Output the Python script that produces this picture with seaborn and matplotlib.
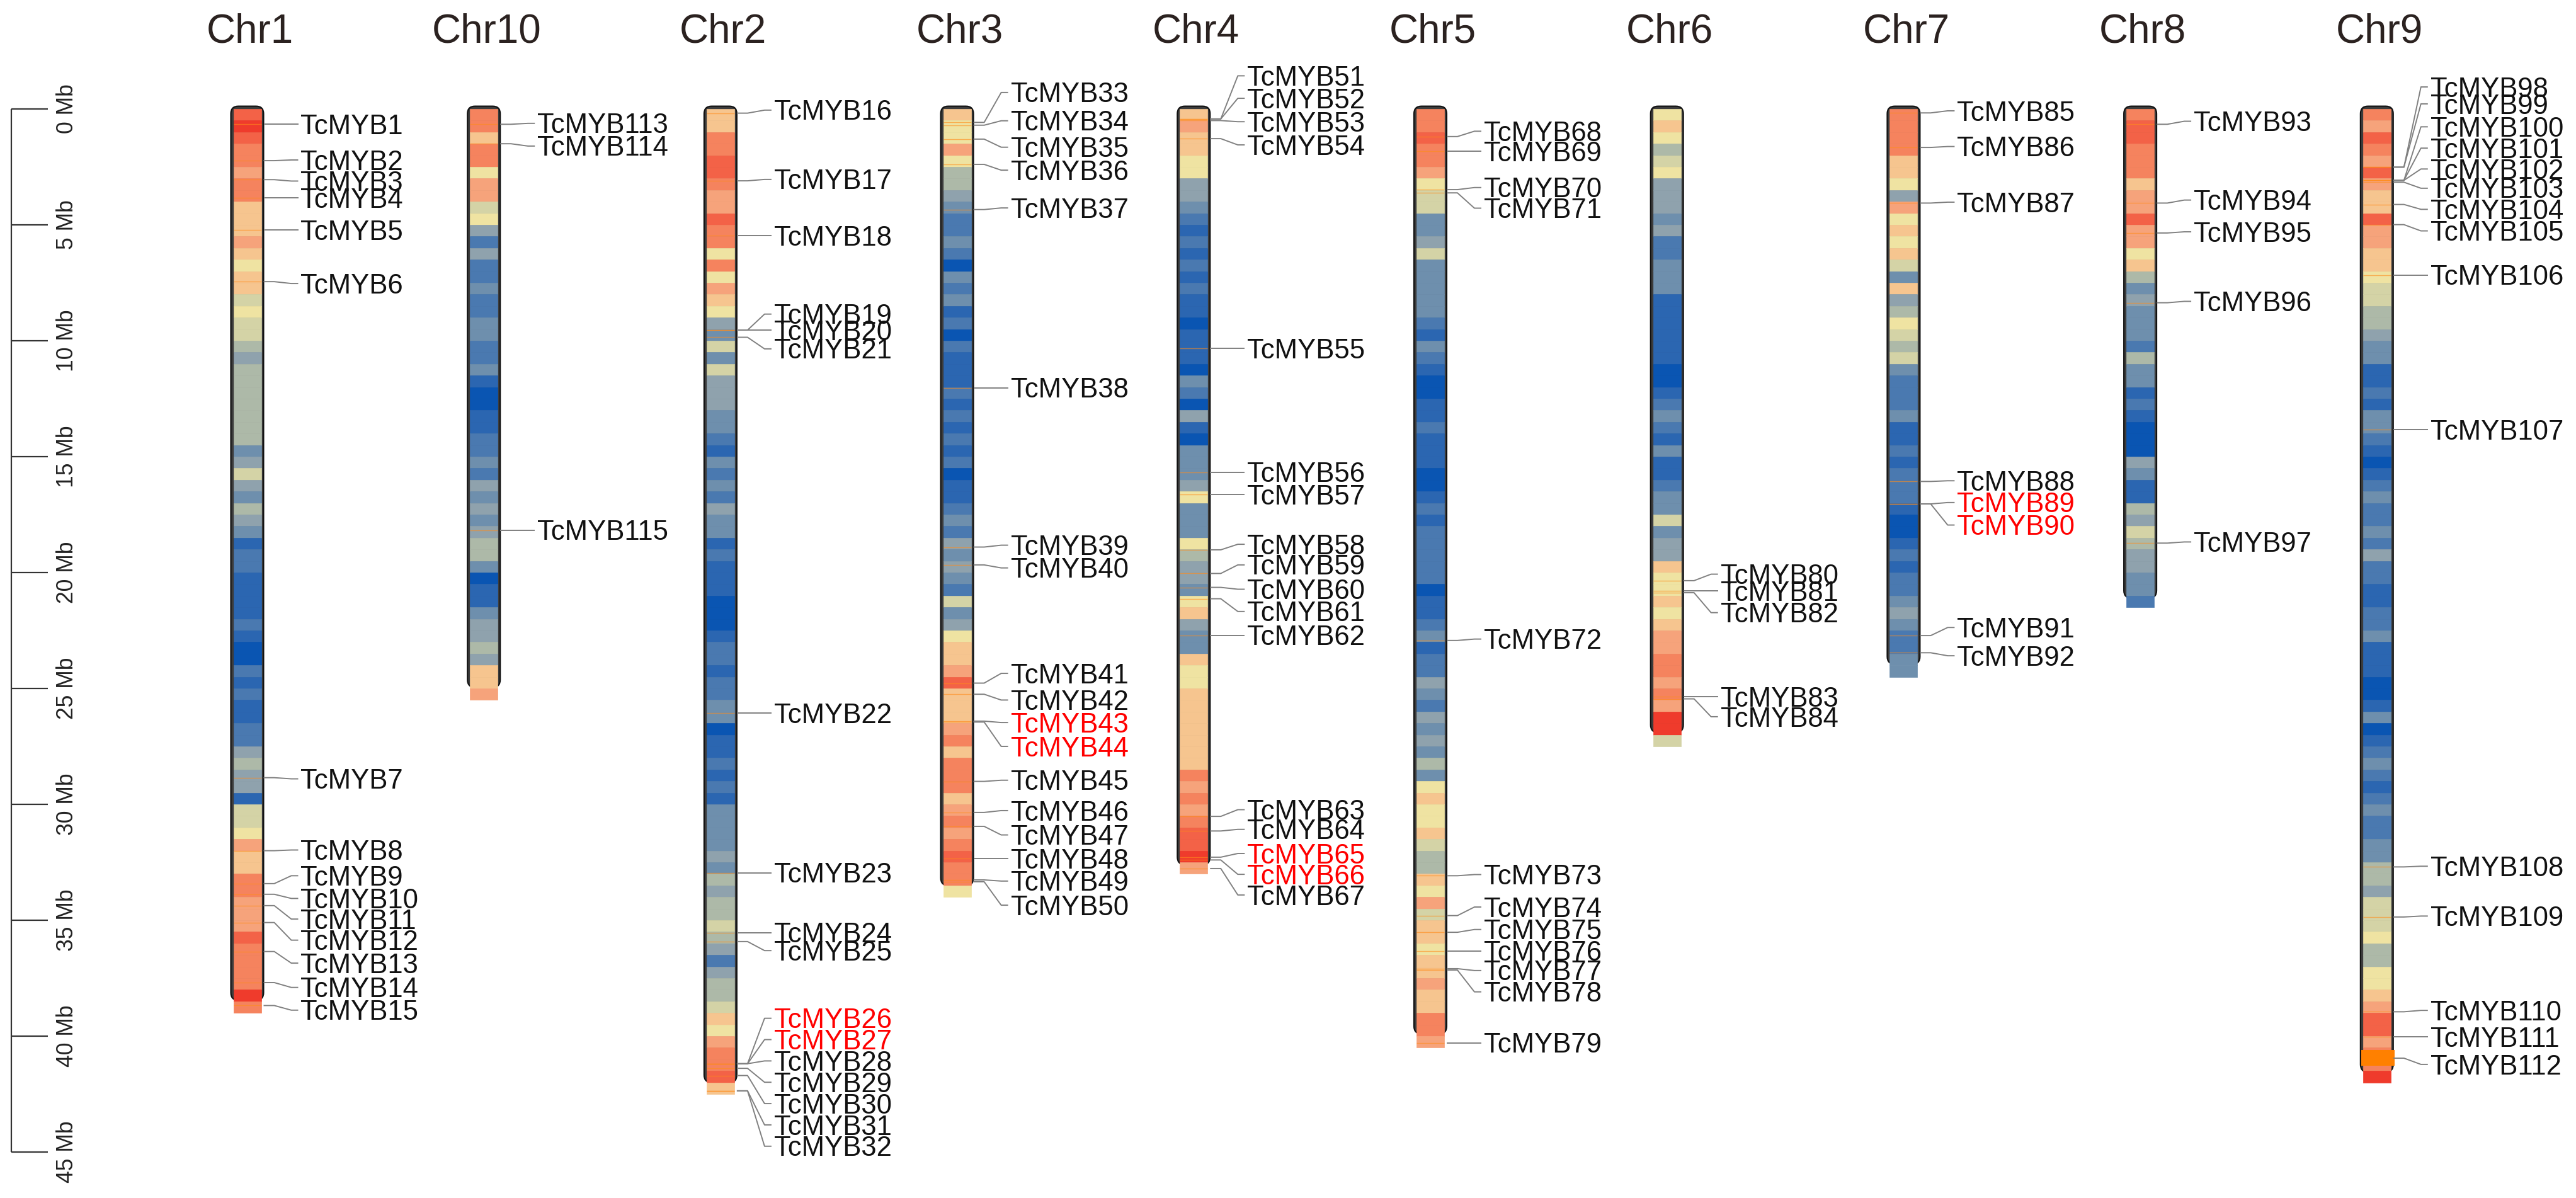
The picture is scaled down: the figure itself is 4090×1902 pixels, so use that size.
import numpy as np
import matplotlib
matplotlib.use("Agg")
import matplotlib.pyplot as plt
import seaborn as sns
from matplotlib.patches import FancyBboxPatch, Rectangle

sns.set_theme(style="white")
plt.rcParams['font.family'] = ['Liberation Sans', 'DejaVu Sans']

# ---------------- data ----------------
chroms = ["Chr1", "Chr10", "Chr2", "Chr3", "Chr4", "Chr5", "Chr6", "Chr7", "Chr8", "Chr9"]
chrom_len = [38.45, 24.95, 42.0, 33.5, 32.6, 39.9, 26.9, 23.95, 21.1, 41.55]
bin_size = 0.5
scale_ticks = [0, 5, 10, 15, 20, 25, 30, 35, 40, 45]
scale_labels = ["0 Mb", "5 Mb", "10 Mb", "15 Mb", "20 Mb", "25 Mb", "30 Mb", "35 Mb", "40 Mb", "45 Mb"]

# gene density level per 0.5 Mb bin (0 = lowest, 12 = highest)
dens_chr1 = [11,12,11,10,10,9,10,10,8,8, 8,9,8,7,8,8,6,7,6,6, 5,4,5,5,5,5,5,5,5,3,
             4,6,4,3,5,4,3,1,2,2, 1,1,1,1,2,1,0,0,2,1, 2,1,1,2,2,4,5,4,4,1,
             6,6,7,9,8,8,10,10,9,9, 9,11,10,10,10,10,12,10]
dens_chr10 = [10,10,8,10,10,7,9,9,6,7, 4,2,4,2,2,3,2,2,3,3, 2,2,3,1,0,0,1,1,2,2,
              3,2,4,3,4,3,4,5,5,3, 0,1,1,3,4,4,5,4,8,8, 9]
dens_chr2 = [8,8,10,10,11,11,10,9,9,11, 10,10,7,10,7,9,8,7,4,3, 6,3,6,4,4,4,3,3,2,1,
             3,2,3,2,4,3,3,1,2,1, 1,1,0,0,0,1,2,2,1,2, 2,3,3,0,1,1,2,1,2,1,
             3,3,3,3,4,3,5,4,5,5, 6,5,4,2,4,5,5,6,8,7, 9,10,10,11,8]
dens_chr3 = [8,7,7,9,7,5,5,4,3,2, 2,3,2,0,3,2,3,1,2,0, 2,1,1,1,2,1,2,1,2,1,
             2,0,1,1,2,3,2,4,3,4, 3,2,6,3,4,7,8,8,9,11, 8,8,8,9,10,8,10,10,10,8,
             9,10,9,10,11,10,10,7]
dens_chr4 = [8,9,8,8,7,7,4,4,3,2, 1,2,1,2,1,2,1,1,0,1, 1,1,0,3,2,0,4,1,0,3,
             3,3,4,7,3,3,3,7,5,4, 4,3,7,8,4,3,3,8,7,7, 8,8,8,8,8,8,8,10,9,10,
             9,10,11,11,12,9]
dens_chr5 = [10,10,11,10,10,9,7,6,6,3, 3,4,6,3,3,3,3,3,2,1, 3,2,1,0,0,1,1,2,1,1,
             1,0,0,1,2,1,2,2,2,2, 2,0,1,1,2,3,1,2,2,4, 3,2,4,3,4,3,5,3,7,8,
             7,7,8,6,5,5,8,7,9,6, 8,8,7,8,8,9,8,8,10,10, 9]
dens_chr6 = [7,8,7,5,6,7,4,4,4,3, 4,2,2,3,3,3,1,1,1,1, 1,1,0,0,1,2,3,2,1,3,
             1,1,2,3,3,6,3,4,4,8, 7,7,8,7,8,9,9,10,10,9, 10,9,12,12,6]
dens_chr7 = [10,10,10,10,8,8,7,4,9,7, 8,7,8,6,3,8,4,5,7,6, 5,6,3,2,2,2,3,1,1,2,
             1,2,2,2,1,0,0,1,2,1, 2,2,3,4,3,2,2,3,3]
dens_chr8 = [10,11,11,10,10,10,8,9,9,11, 9,9,7,8,5,3,4,3,3,3, 2,5,3,3,1,2,1,0,0,0,
             4,3,1,1,5,4,6,5,4,4, 3,3,2]
dens_chr9 = [10,9,11,10,9,11,9,8,8,11, 9,9,8,8,7,6,6,5,5,4, 3,3,1,1,2,1,3,3,2,1,
             0,1,2,3,2,2,3,2,4,2, 2,1,1,2,2,3,1,1,1,0, 0,1,3,0,1,2,3,2,1,2,
             3,2,2,3,3,5,5,4,6,6, 6,7,5,5,7,7,8,9,11,11, 9,10,10,12]

# genes: id number, position on chromosome (Mb), label position (Mb)
ids_chr1 = [1,2,3,4,5,6,7,8,9,10,11,12,13,14,15]
pos_chr1 = [0.66,2.23,3.05,3.84,5.23,7.45,28.85,32.0,33.42,33.88,34.37,35.1,36.35,37.69,38.68]
lab_chr1 = [0.66,2.2,3.11,3.84,5.23,7.53,28.9,31.97,33.08,34.06,34.95,35.86,36.85,37.9,38.88]

ids_chr10 = [113,114,115]
pos_chr10 = [0.66,1.5,18.17]
lab_chr10 = [0.62,1.6,18.17]

ids_chr2 = [16,17,18,19,20,21,22,23,24,25,26,27,28,29,30,31,32]
pos_chr2 = [0.18,3.1,5.47,9.54,9.54,9.85,26.07,32.95,35.54,35.92,41.19,41.19,41.19,41.39,41.7,42.36,42.36]
lab_chr2 = [0.05,3.04,5.47,8.85,9.54,10.35,26.07,32.95,35.54,36.31,39.23,40.15,41.07,41.99,42.91,43.83,44.75]

ids_chr3 = [33,34,35,36,37,38,39,40,41,42,43,44,45,46,47,48,49,50]
pos_chr3 = [0.58,0.70,1.3,2.39,4.34,12.03,18.9,19.67,24.77,25.25,26.41,26.45,29.01,30.35,30.95,32.34,33.26,33.34]
lab_chr3 = [-0.71,0.51,1.65,2.64,4.27,12.03,18.82,19.8,24.35,25.5,26.47,27.5,28.96,30.27,31.32,32.34,33.31,34.35]

ids_chr4 = [51,52,53,54,55,56,57,58,59,60,61,62,63,64,65,66,67]
pos_chr4 = [0.43,0.43,0.5,1.28,10.33,15.67,16.64,19.02,20.04,20.64,21.13,22.71,30.52,31.15,32.28,32.4,32.77]
lab_chr4 = [-1.43,-0.46,0.55,1.55,10.33,15.67,16.64,18.78,19.67,20.72,21.68,22.71,30.23,31.08,32.12,33.02,33.91]

ids_chr5 = [68,69,70,71,72,73,74,75,76,77,78,79]
pos_chr5 = [1.19,1.82,3.48,3.62,22.93,33.08,34.8,35.52,36.32,37.09,37.15,40.29]
lab_chr5 = [0.96,1.82,3.39,4.28,22.87,33.03,34.43,35.4,36.32,37.17,38.09,40.29]

ids_chr6 = [80,81,82,83,84]
pos_chr6 = [20.35,20.79,20.87,25.36,25.45]
lab_chr6 = [20.07,20.79,21.73,25.36,26.22]

ids_chr7 = [85,86,87,88,89,90,91,92]
pos_chr7 = [0.17,1.66,4.06,16.07,17.04,17.04,22.72,23.46]
lab_chr7 = [0.08,1.62,4.02,16.04,16.98,17.95,22.37,23.59]

ids_chr8 = [93,94,95,96,97]
pos_chr8 = [0.66,4.06,5.35,8.36,18.73]
lab_chr8 = [0.53,3.93,5.3,8.3,18.68]

ids_chr9 = [98,99,100,101,102,103,104,105,106,107,108,109,110,111,112]
pos_chr9 = [2.51,2.51,3.08,3.08,3.08,3.16,4.12,4.99,7.17,13.83,32.7,34.86,38.95,40.04,40.95]
lab_chr9 = [-0.95,-0.22,0.77,1.69,2.59,3.42,4.33,5.26,7.17,13.83,32.67,34.82,38.89,40.04,41.22]

red_ids = [26, 27, 43, 44, 65, 66, 89, 90]
wide_mark_chr9 = (40.6, 41.27)

# ---------------- assembly ----------------
dens_all = [dens_chr1, dens_chr10, dens_chr2, dens_chr3, dens_chr4,
            dens_chr5, dens_chr6, dens_chr7, dens_chr8, dens_chr9]
ids_all = [ids_chr1, ids_chr10, ids_chr2, ids_chr3, ids_chr4, ids_chr5, ids_chr6, ids_chr7, ids_chr8, ids_chr9]
pos_all = [pos_chr1, pos_chr10, pos_chr2, pos_chr3, pos_chr4, pos_chr5, pos_chr6, pos_chr7, pos_chr8, pos_chr9]
lab_all = [lab_chr1, lab_chr10, lab_chr2, lab_chr3, lab_chr4, lab_chr5, lab_chr6, lab_chr7, lab_chr8, lab_chr9]

band_colors = ["#0a55b2", "#2b66b1", "#4b79b0", "#6e8fad", "#8fa2ad", "#adb9a8",
               "#d3d3a6", "#efe3a2", "#f6c58f", "#f6a47c", "#f5845f", "#f36247", "#ef3b2c"]
cmap = sns.blend_palette(band_colors, n_colors=256, as_cmap=True)
vmax = 12.0

# ---------------- layout ----------------
W, H = 4091, 1902
x0_px, slot_px = 392.5, 375.7
y0_px, mb_px = 173.0, 36.8
PX = 1.0 / slot_px          # slot units per pixel
MB = 1.0 / mb_px            # Mb per pixel

fig = plt.figure(figsize=(W / 100, H / 100), dpi=100)
ax = fig.add_axes([0, 0, 1, 1])
ax.set_xlim(-x0_px * PX, (W - x0_px) * PX)
ax.set_ylim((H - y0_px) * MB, -y0_px * MB)
ax.axis("off")

label_fs = 31.4
title_fs = 46
tick_fs = 25.6
cap_half = 0.716 * label_fs * 100 / 72 / 2 * MB

band_hw = 22 * PX
out_hw = 26 * PX

for i, (name, L) in enumerate(zip(chroms, chrom_len)):
    c = i
    vals = np.array(dens_all[i], dtype=float)
    n = len(vals)
    # outline
    outline = FancyBboxPatch((c - out_hw, -0.12), 2 * out_hw, L + 0.12,
                             boxstyle="round,pad=0,rounding_size=%f" % (12 * PX),
                             mutation_aspect=slot_px / mb_px,
                             facecolor="#3c3c3c", edgecolor="#111111", lw=1.5, zorder=1)
    ax.add_patch(outline)
    cols = cmap(vals / vmax)
    ax.bar(np.full(n, c), np.full(n, bin_size), bottom=np.arange(n) * bin_size,
           width=2 * band_hw, color=cols, edgecolor=cols, linewidth=0.5, zorder=2)
    # gene marks on chromosome
    ax.hlines(pos_all[i], c - band_hw, c + band_hw, color="#ff8c1a", lw=1.0, alpha=0.6, zorder=3)
    # title
    ax.text(c + 4 * PX, -2.88, name, ha="center", va="baseline", fontsize=title_fs, color="#2b2220")
    # labels
    for gid, gp, lp in zip(ids_all[i], pos_all[i], lab_all[i]):
        xs = [c + 26 * PX, c + 43 * PX, c + 70 * PX, c + 81 * PX]
        ys = [gp, gp, lp, lp]
        ax.plot(xs, ys, color="#808080", lw=1.4, zorder=4, solid_capstyle="butt")
        col = "#ff0000" if gid in red_ids else "#111111"
        ax.text(c + 85 * PX, lp + cap_half, "TcMYB%d" % gid, ha="left", va="baseline",
                fontsize=label_fs, color=col, zorder=5)

# wide mark on Chr9
c9 = chroms.index("Chr9")
ax.add_patch(Rectangle((c9 - 25 * PX, wide_mark_chr9[0]), 53 * PX,
                       wide_mark_chr9[1] - wide_mark_chr9[0], facecolor="#ff8000",
                       edgecolor="none", zorder=3.5))

# scale bar
sx = (18 - x0_px) * PX
ax.vlines(sx, scale_ticks[0], scale_ticks[-1], color="#333333", lw=1.6)
ax.hlines(scale_ticks, sx, sx + 58 * PX, color="#333333", lw=1.6)
for t, lab in zip(scale_ticks, scale_labels):
    ax.text(sx + 71 * PX, t, lab, rotation=90, ha="left", va="center",
            fontsize=tick_fs, color="#222222")

fig.savefig("out.png", dpi=100)
